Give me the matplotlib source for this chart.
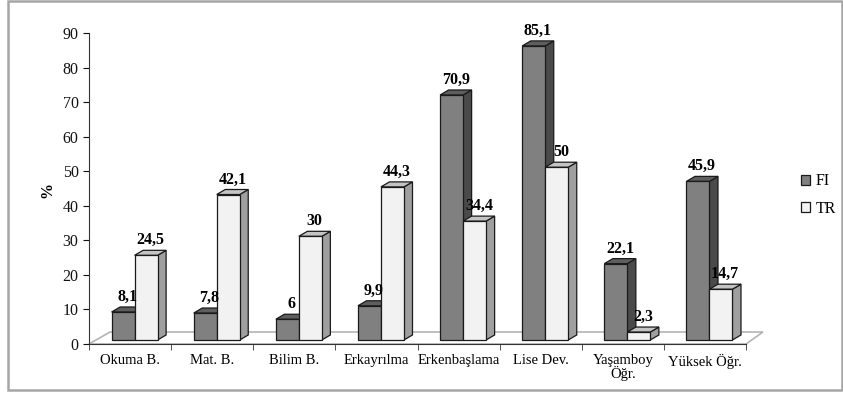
import matplotlib.pyplot as plt
from matplotlib.patches import Rectangle, Polygon, Patch
import numpy as np

plt.rcParams['font.family'] = ['Liberation Serif', 'DejaVu Serif']

categories = ['Okuma B.', 'Mat. B.', 'Bilim B.', 'Erkayrılma', 'Erkenbaşlama',
              'Lise Dev.', 'Yaşamboy\nÖğr.', 'Yüksek Öğr.']
fi = [8.1, 7.8, 6, 9.9, 70.9, 85.1, 22.1, 45.9]
tr = [24.5, 42.1, 30, 44.3, 34.4, 50, 2.3, 14.7]
fi_labels = ['8,1', '7,8', '6', '9,9', '70,9', '85,1', '22,1', '45,9']
tr_labels = ['24,5', '42,1', '30', '44,3', '34,4', '50', '2,3', '14,7']

# colours: front, top, side
fi_cols = ('#808080', '#5e5e5e', '#4a4a4a')
tr_cols = ('#f2f2f2', '#c4c4c4', '#9f9f9f')

W = 0.28       # bar width (category units)
DX, DY = 0.104, 1.45   # bar depth
OY = 1.16      # lift of bar bases off the front edge of the floor
FDX, FDY = 0.256, 3.47  # floor depth

fig = plt.figure(figsize=(8.43, 3.94), dpi=100)
ax = fig.add_axes([89 / 843, 50 / 394, 657 / 843, 311 / 394])
ax.set_xlim(-0.5, 7.5)
ax.set_ylim(0, 90)

# floor
floor = Polygon([(-0.5, 0), (-0.5 + FDX, FDY), (7.5 + FDX - 0.05, FDY), (7.5, 0)],
                closed=True, facecolor='white', edgecolor='#b4b4b4', lw=1.2,
                zorder=1, clip_on=False)
ax.add_patch(floor)


def bar3d(x0, v, cols, label):
    top = OY + v
    front = Rectangle((x0, OY), W, v, facecolor=cols[0], edgecolor='#1a1a1a',
                      lw=0.9, zorder=3, clip_on=False)
    topf = Polygon([(x0, top), (x0 + DX, top + DY), (x0 + W + DX, top + DY), (x0 + W, top)],
                   facecolor=cols[1], edgecolor='#1a1a1a', lw=0.9, zorder=3, clip_on=False)
    side = Polygon([(x0 + W, OY), (x0 + W + DX, OY + DY), (x0 + W + DX, top + DY), (x0 + W, top)],
                   facecolor=cols[2], edgecolor='#1a1a1a', lw=0.9, zorder=3, clip_on=False)
    for p in (side, topf, front):
        ax.add_patch(p)
    ax.text(x0 + W / 2 + DX / 2, top + DY + 0.6, label, ha='center', va='bottom',
            fontsize=11.5, fontweight='bold', zorder=5, clip_on=False)


for i in range(len(categories)):
    bar3d(i - 0.225, fi[i], fi_cols, fi_labels[i])
    bar3d(i - 0.225 + W, tr[i], tr_cols, tr_labels[i])

ax.spines['top'].set_visible(False)
ax.spines['right'].set_visible(False)
ax.spines['left'].set_color('#333333')
ax.spines['bottom'].set_color('#333333')
ax.set_yticks(np.arange(0, 91, 10))
ax.tick_params(axis='y', direction='out', length=4, labelsize=11.5, colors='#111111')
ax.set_xticks(np.arange(len(categories)))
ax.set_xticklabels(categories, fontsize=10.5, linespacing=0.95)
ax.set_xticks(np.arange(-0.5, 8, 1), minor=True)
ax.tick_params(axis='x', which='major', length=0, pad=7)
ax.tick_params(axis='x', which='minor', direction='out', length=4, color='#333333')

fig.text(47 / 843, 1 - 190 / 394, '%', rotation=90, ha='center', va='center',
         fontsize=11.5, fontweight='bold')

handles = [Patch(facecolor=fi_cols[0], edgecolor='#1a1a1a', lw=0.9, label='FI'),
           Patch(facecolor=tr_cols[0], edgecolor='#1a1a1a', lw=0.9, label='TR')]
fig.legend(handles=handles, loc='center left', bbox_to_anchor=(801 / 843, 1 - 195 / 394),
           frameon=False, fontsize=11.5, handlelength=0.55, handleheight=0.55,
           handletextpad=0.35, labelspacing=0.7, borderpad=0, borderaxespad=0)

fig.add_artist(Rectangle((8 / 843, 4 / 394), 834 / 843, 389 / 394, transform=fig.transFigure,
                         fill=False, edgecolor='#a6a6a6', lw=1.8))

fig.savefig('out.png', dpi=100)
